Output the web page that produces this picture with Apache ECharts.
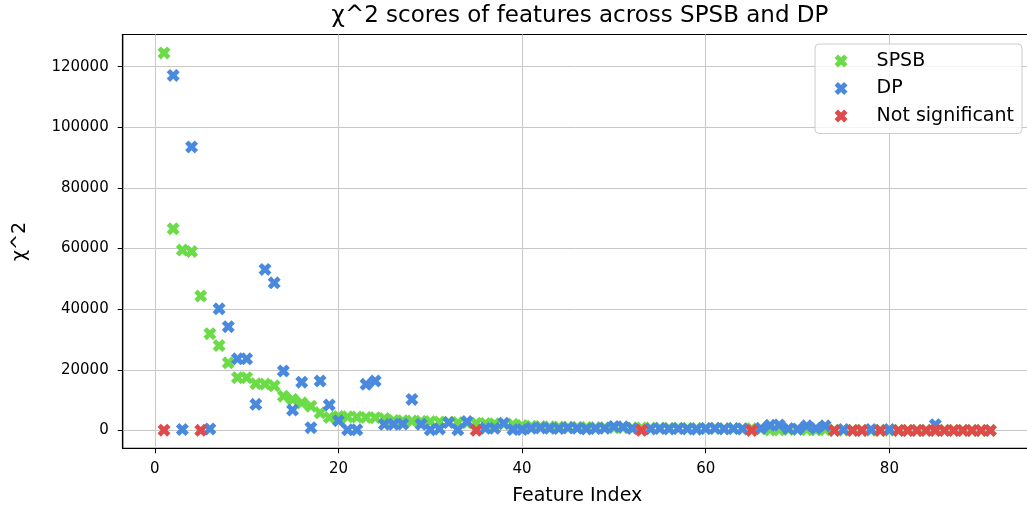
<!DOCTYPE html>
<html>
<head>
<meta charset="utf-8">
<script src="https://cdn.jsdelivr.net/npm/echarts@6/dist/echarts.min.js"></script>
<style>
  html, body { margin: 0; padding: 0; background: #fff; }
  #chart { width: 1027px; height: 510px; }
</style>
</head>
<body>
<div id="chart"></div>
<script>
// Feature indices (1..91)
const featureIndex = [
  1, 2, 3, 4, 5, 6, 7, 8, 9, 10, 11, 12, 13, 14, 15, 16, 17, 18, 19, 20,
  21, 22, 23, 24, 25, 26, 27, 28, 29, 30, 31, 32, 33, 34, 35, 36, 37, 38, 39, 40,
  41, 42, 43, 44, 45, 46, 47, 48, 49, 50, 51, 52, 53, 54, 55, 56, 57, 58, 59, 60,
  61, 62, 63, 64, 65, 66, 67, 68, 69, 70, 71, 72, 73, 74, 75, 76, 77, 78, 79, 80,
  81, 82, 83, 84, 85, 86, 87, 88, 89, 90, 91
];

// χ^2 scores for SPSB, one per feature
const spsbScores = [
  124500, 66500, 59500, 59000, 44300, 31900, 28000, 22300, 17400, 17400,
  15400, 15300, 14700, 11300, 10200, 9100, 8000, 5800, 4300, 4600,
  4500, 4400, 4300, 4200, 3900, 3300, 3200, 3100, 3000, 2900,
  2800, 2700, 2600, 2500, 2400, 2300, 2200, 2100, 2000, 1600,
  1400, 1300, 1200, 1150, 1100, 1050, 1000, 950, 900, 880,
  850, 820, 800, 780, 760, 740, 720, 700, 680, 660,
  640, 620, 600, 580, 560, 520, 150, 140, 300, 280,
  260, 100, 240, 90, 80, 70, 60, 55, 50, 45,
  40, 35, 30, 28, 25, 22, 20, 15, 12, 10, 5
];

// χ^2 scores for DP (null where the feature is not significant)
const dpScores = [
  null, 117100, 300, 93500, null, 500, 40100, 34200, 23600, 23600,
  8600, 53100, 48700, 19600, 6700, 15900, 900, 16300, 8400, 3200,
  200, 200, 15200, 16300, 2000, 2000, 2100, 10200, 2000, 200,
  500, 2600, 200, 2900, null, 700, 700, 2400, 300, 300,
  700, 800, 700, 600, 800, 700, 500, 600, 700, 1300,
  1200, 600, null, 500, 600, 500, 600, 500, 400, 600,
  700, 500, 600, 500, null, 700, 1700, 1800, 600, 500,
  1500, 700, 1500, null, 300, null, null, 300, null, 300,
  null, null, null, null, 1900, null, null, null, null, null, null
];

// Features that are not significant
const notSigIndex = [1, 5, 35, 53, 65, 74, 76, 77, 79, 81, 82, 83, 84, 85, 86, 87, 88, 89, 90, 91];
const notSigScores = [60, 40, 30, 20, 10, 10, 10, 10, 10, 10, 10, 10, 10, 10, 10, 10, 10, 10, 10, 10];

const xTicks = [0, 20, 40, 60, 80];
const yTicks = [0, 20000, 40000, 60000, 80000, 100000, 120000];

const seriesNames = ['SPSB', 'DP', 'Not significant'];
const colors = ['#6bdc47', '#4a8ade', '#e04a4a'];

// filled "X" marker
const xMarker = 'path://M0,2.6 L2.6,0 L5,2.4 L7.4,0 L10,2.6 L7.6,5 L10,7.4 L7.4,10 L5,7.6 L2.6,10 L0,7.4 L2.4,5 Z';

const pairs = (xs, ys) => xs.map((x, i) => [x, ys[i]]).filter(p => p[1] !== null);

const font = "'DejaVu Sans', sans-serif";

const chart = echarts.init(document.getElementById('chart'), null, { renderer: 'canvas' });

chart.setOption({
  animation: false,
  backgroundColor: '#ffffff',
  title: {
    text: 'χ^2 scores of features across SPSB and DP',
    left: 575,
    textAlign: 'center',
    top: 0,
    textStyle: { fontFamily: font, fontSize: 23, fontWeight: 'normal', color: '#000' }
  },
  legend: {
    orient: 'vertical',
    right: 5,
    top: 44,
    padding: [7.5, 8, 8, 19.5],
    itemGap: 8.5,
    itemWidth: 13,
    itemHeight: 13,
    backgroundColor: 'rgba(255,255,255,0.8)',
    borderColor: '#cccccc',
    borderWidth: 1,
    borderRadius: 4,
    textStyle: {
      fontFamily: font, fontSize: 19, lineHeight: 19, color: '#000',
      padding: [0, 0, 0, 24]
    },
    data: seriesNames.map(n => ({ name: n, icon: xMarker }))
  },
  grid: {
    left: 122.7,
    right: -4.7,
    top: 34.5,
    bottom: 61.7,
    outerBoundsMode: 'none',
    containLabel: false,
    show: true,
    borderColor: '#000',
    borderWidth: 1.2,
    backgroundColor: 'transparent'
  },
  xAxis: {
    type: 'value',
    min: -3.5,
    max: 95.5,
    name: 'Feature Index',
    nameLocation: 'middle',
    nameGap: 38,
    nameTextStyle: { fontFamily: font, fontSize: 19, color: '#000' },
    axisLine: { show: true, onZero: false, lineStyle: { color: '#000', width: 1.2 } },
    axisTick: { show: true, length: 5, customValues: xTicks, lineStyle: { color: '#000' } },
    axisLabel: {
      customValues: xTicks, margin: 13.5,
      fontFamily: font, fontSize: 15, color: '#000'
    },
    splitLine: { show: true, lineStyle: { color: '#c8c8c8', width: 1 } }
  },
  yAxis: {
    type: 'value',
    min: -5900,
    max: 130600,
    name: 'χ^2',
    nameLocation: 'middle',
    nameGap: 93,
    nameTextStyle: { fontFamily: font, fontSize: 19, color: '#000' },
    axisLine: { show: true, onZero: false, lineStyle: { color: '#000', width: 1.2 } },
    axisTick: { show: true, length: 5, customValues: yTicks, lineStyle: { color: '#000' } },
    axisLabel: {
      customValues: yTicks, margin: 14,
      fontFamily: font, fontSize: 15, color: '#000',
      formatter: v => String(v)
    },
    splitLine: { show: true, lineStyle: { color: '#c8c8c8', width: 1 } }
  },
  series: [
    {
      name: seriesNames[0], type: 'scatter', symbol: xMarker, symbolSize: 13,
      itemStyle: { color: colors[0], opacity: 1 },
      data: pairs(featureIndex, spsbScores), z: 2
    },
    {
      name: seriesNames[1], type: 'scatter', symbol: xMarker, symbolSize: 13,
      itemStyle: { color: colors[1], opacity: 1 },
      data: pairs(featureIndex, dpScores), z: 3
    },
    {
      name: seriesNames[2], type: 'scatter', symbol: xMarker, symbolSize: 13,
      itemStyle: { color: colors[2], opacity: 1 },
      data: pairs(notSigIndex, notSigScores), z: 4
    }
  ]
});
</script>
</body>
</html>
